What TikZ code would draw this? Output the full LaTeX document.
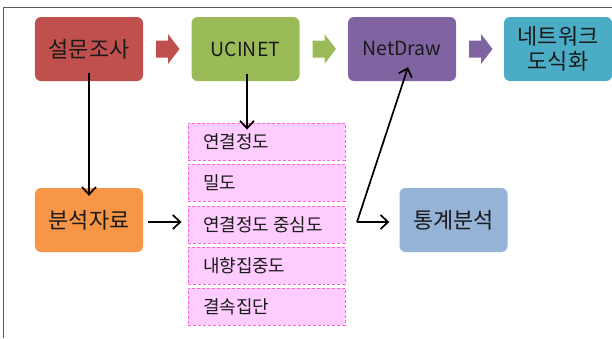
\documentclass[tikz,border=0pt]{standalone}
\usepackage{fontspec}
\setmainfont{Noto Sans CJK KR}
\usetikzlibrary{arrows.meta}
\definecolor{cred}{HTML}{C0504D}
\definecolor{cgreen}{HTML}{9BBB59}
\definecolor{cpurple}{HTML}{8064A2}
\definecolor{cteal}{HTML}{4BACC6}
\definecolor{corange}{HTML}{F79646}
\definecolor{cblue}{HTML}{95B3D7}
\definecolor{cpink}{HTML}{FFCCFF}
\definecolor{cpinkline}{HTML}{FF66CC}
\definecolor{ctext}{HTML}{1A1A1A}
\tikzset{
  procbox/.style={rounded corners=6bp, minimum width=108bp, minimum height=64bp, inner sep=0pt, align=center, text=ctext, font=\fontsize{22}{25}\selectfont, draw=none},
  latinbox/.style={procbox, font=\fontsize{19.5}{24}\selectfont},
  listbox/.style={fill=cpink, draw=cpinkline, densely dashed, line width=0.9bp, minimum width=157bp, minimum height=37bp, inner xsep=15bp, inner ysep=0pt, text=ctext, font=\fontsize{18}{21}\selectfont},
  conn/.style={-{Straight Barb[length=7.5bp,width=14bp]}, line width=1.7bp, black}
}
\newcommand{\lefttext}[1]{\makebox[127bp][l]{#1}}
\newcommand{\blockarrow}[2]{%
  \fill[#2] (#1-11.5,40.5) -- (#1+0.5,40.5) -- (#1+0.5,34) -- (#1+12,49) -- (#1+0.5,64) -- (#1+0.5,57.5) -- (#1-11.5,57.5) -- cycle;}
\begin{document}
\begin{tikzpicture}[x=1bp,y=-1bp]
\useasboundingbox (0,0) rectangle (612,338);
\draw[line width=1.2bp, color=black!65] (3.5,338) -- (3.5,7.5) -- (612,7.5);
\node[procbox, fill=cred] (survey) at (89,49) {설문조사};
\node[latinbox, fill=cgreen] (ucinet) at (245.5,49) {UCINET};
\node[latinbox, fill=cpurple] (netdraw) at (402,49) {NetDraw};
\node[procbox, fill=cteal] (vis) at (558,49) {네트워크\\도식화};
\node[procbox, fill=corange] (data) at (89,220) {분석자료};
\node[procbox, fill=cblue] (stat) at (453.5,220) {통계분석};
\blockarrow{167.5}{cred}
\blockarrow{324}{cgreen}
\blockarrow{480.5}{cpurple}
\node[listbox] (l1) at (266.5,141.5) {\lefttext{연결정도}};
\node[listbox] (l2) at (266.5,182.5) {\lefttext{밀도}};
\node[listbox] (l3) at (266.5,224.5) {\lefttext{연결정도 중심도}};
\node[listbox] (l4) at (266.5,265.5) {\lefttext{내향집중도}};
\node[listbox] (l5) at (266.5,306.5) {\lefttext{결속집단}};
\coordinate (split) at (357,222);
\draw[conn] ([yshift=8bp]survey.south) -- ([yshift=-8bp]data.north);
\draw[conn] ([xshift=1.5bp,yshift=7bp]ucinet.south) -- ([xshift=1.5bp,yshift=-7bp]ucinet.south |- l1.north);
\draw[conn] ([xshift=5bp]data.east |- split) -- ([xshift=-6bp]l3.west |- split);
\draw[conn] (split) -- ([xshift=6bp,yshift=14bp]netdraw.south);
\draw[conn] (split) -- ([xshift=-10bp]stat.west |- split);
\end{tikzpicture}
\end{document}
